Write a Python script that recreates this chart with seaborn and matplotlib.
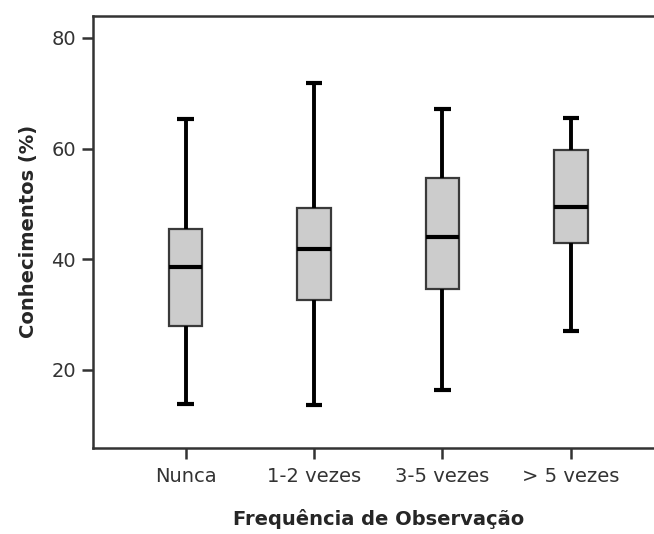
import matplotlib
matplotlib.use("Agg")
import matplotlib.pyplot as plt
import pandas as pd
import seaborn as sns
import numpy as np

# five-number summaries (min, Q1, median, Q3, max)
groups = ['Nunca', '1-2 vezes', '3-5 vezes', '> 5 vezes']
nunca = [13.9, 27.9, 38.6, 45.5, 65.4]
vezes_1_2 = [13.6, 32.6, 41.8, 49.3, 71.9]
vezes_3_5 = [16.3, 34.7, 44.0, 54.6, 67.2]
vezes_5_mais = [27.0, 42.9, 49.5, 59.7, 65.6]
y_ticks = [20, 40, 60, 80]

rows = []
for g, vals in zip(groups, [nunca, vezes_1_2, vezes_3_5, vezes_5_mais]):
    for v in vals:
        rows.append((g, v))
df = pd.DataFrame(rows, columns=['freq', 'conh'])

sns.set_style('white')
plt.rcParams['font.family'] = ['DejaVu Sans']

fig = plt.figure(figsize=(6.54, 5.34), dpi=100)
ax = fig.add_axes([0.1418, 0.161, 0.8732, 0.8096])

sns.boxplot(data=df, x='freq', y='conh', order=groups, ax=ax,
            whis=(0, 100), width=0.26, color='#cccccc', saturation=1,
            linewidth=2.8, linecolor='black',
            boxprops={'edgecolor': '#3a3a3a', 'linewidth': 1.6},
            medianprops={'color': 'black', 'linewidth': 3, 'solid_capstyle': 'butt'},
            whiskerprops={'color': 'black', 'linewidth': 2.8, 'solid_capstyle': 'butt'},
            capprops={'color': 'black', 'linewidth': 3, 'solid_capstyle': 'butt'},
            showfliers=False)

ax.set_xlim(-0.724, 3.724)
ax.set_ylim(5.9, 84)
ax.set_yticks(y_ticks)
ax.set_yticklabels([str(t) for t in y_ticks])

for s in ax.spines.values():
    s.set_color('#333333')
    s.set_linewidth(1.8)

ax.tick_params(axis='both', which='both', bottom=True, left=True,
               direction='out', length=8, width=1.8,
               color='#333333', labelsize=14, labelcolor='#333333', pad=4)
ax.tick_params(axis='x', pad=6)

ax.set_xlabel('Frequência de Observação', fontsize=14, fontweight='bold', labelpad=16)
ax.set_ylabel('Conhecimentos (%)', fontsize=14, fontweight='bold', labelpad=10)

fig.savefig('out.png', dpi=100)
